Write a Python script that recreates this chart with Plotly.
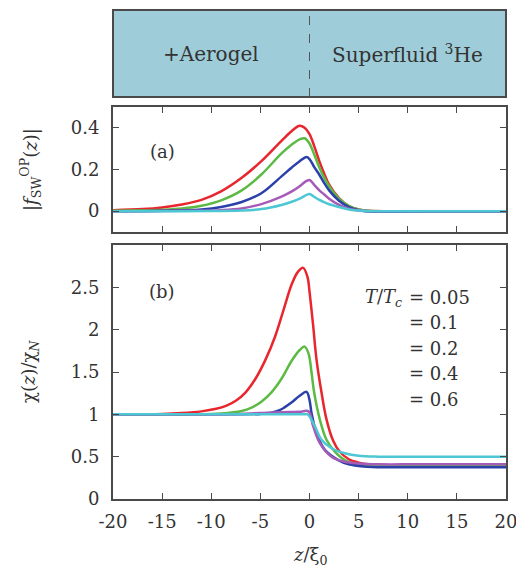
import plotly.graph_objects as go

# ---------------- data ----------------
temps = ["0.05", "0.1", "0.2", "0.4", "0.6"]
colors = ["#e8262e", "#5cba45", "#2b40a8", "#a65bb8", "#4cc7d3"]

# panel (a): |f_SW^OP(z)|
za_red = [-20, -17, -15, -13, -11, -9, -6.9, -4.9, -2.85, -1.8, -1.0, -0.5, 0, 0.5, 1, 1.5, 2, 3, 4, 5, 6, 8, 12, 20]
fa_red = [0.005, 0.01, 0.018, 0.032, 0.054, 0.095, 0.16, 0.24, 0.338, 0.385, 0.41, 0.40, 0.37, 0.31, 0.24, 0.18, 0.127, 0.063, 0.025, 0.008, 0.002, 0, 0, 0]
za_green = [-20, -17, -15, -13, -11, -9, -6.9, -4.9, -2.85, -1.8, -1.0, -0.5, 0, 0.5, 1, 1.5, 2, 3, 4, 5, 6, 8, 12, 20]
fa_green = [0.002, 0.004, 0.007, 0.013, 0.026, 0.052, 0.10, 0.176, 0.277, 0.32, 0.345, 0.35, 0.325, 0.27, 0.21, 0.16, 0.12, 0.06, 0.025, 0.008, 0.002, 0, 0, 0]
za_blue = [-20, -16, -13, -11, -9, -6.9, -4.9, -2.85, -1.8, -1.0, -0.3, 0, 0.5, 1, 1.5, 2, 3, 4, 5, 6, 8, 12, 20]
fa_blue = [0, 0.001, 0.004, 0.008, 0.02, 0.044, 0.086, 0.167, 0.21, 0.24, 0.26, 0.25, 0.21, 0.175, 0.135, 0.10, 0.05, 0.02, 0.005, -0.002, -0.003, -0.002, -0.002]
za_purple = [-20, -15, -12, -9, -6.9, -4.9, -2.85, -1.8, -1.0, -0.3, 0, 0.5, 1, 1.5, 2, 3, 4, 5, 6, 9, 14, 20]
fa_purple = [0, 0.001, 0.002, 0.005, 0.013, 0.034, 0.07, 0.095, 0.12, 0.145, 0.15, 0.125, 0.10, 0.08, 0.06, 0.03, 0.012, 0.004, 0, 0, 0, 0]
za_cyan = [-20, -15, -10, -6.9, -4.9, -2.85, -1.8, -1.0, -0.3, 0, 0.5, 1, 1.5, 2, 3, 4, 5, 6, 9, 14, 20]
fa_cyan = [0, 0, 0.001, 0.003, 0.01, 0.03, 0.045, 0.06, 0.078, 0.083, 0.068, 0.054, 0.043, 0.033, 0.02, 0.008, 0.003, 0, 0, 0, 0]

# panel (b): chi(z)/chi_N
zb_red = [-20, -17, -15, -13, -11, -9.5, -8.5, -7.5, -6.5, -5.5, -4.5, -3.5, -2.6, -1.83, -1.2, -0.65, -0.2, 0.0, 0.37, 0.71, 1.22, 1.73, 2.4, 3.0, 4.0, 5.0, 6.0, 8.0, 12, 20]
cb_red = [1.0, 1.002, 1.005, 1.015, 1.035, 1.065, 1.10, 1.16, 1.26, 1.42, 1.64, 1.92, 2.25, 2.53, 2.68, 2.73, 2.62, 2.45, 2.05, 1.65, 1.26, 0.94, 0.69, 0.57, 0.47, 0.43, 0.41, 0.40, 0.40, 0.40]
zb_green = [-20, -16, -12, -9, -6.9, -5.9, -4.9, -3.87, -2.85, -1.83, -1.0, -0.5, -0.1, 0.2, 0.47, 1.05, 1.73, 2.58, 3.6, 5.0, 6.5, 9, 14, 20]
cb_green = [1.0, 1.0, 1.0, 1.01, 1.04, 1.08, 1.15, 1.26, 1.42, 1.63, 1.76, 1.80, 1.72, 1.5, 1.26, 0.94, 0.70, 0.56, 0.46, 0.41, 0.395, 0.39, 0.39, 0.39]
zb_blue = [-20, -15, -10, -7, -5, -3.87, -2.85, -1.83, -1.0, -0.3, 0.0, 0.2, 0.71, 1.56, 2.92, 4.0, 5.5, 8, 12, 20]
cb_blue = [1.0, 1.0, 1.0, 1.0, 1.005, 1.02, 1.06, 1.14, 1.22, 1.265, 1.17, 1.02, 0.78, 0.58, 0.46, 0.41, 0.385, 0.375, 0.375, 0.375]
zb_purple = [-20, -15, -11, -8, -5, -3, -1, -0.1, 0.37, 1.05, 2.24, 3.6, 5, 7, 11, 20]
cb_purple = [1.0, 1.0, 1.0, 1.0, 1.015, 1.025, 1.03, 1.035, 0.86, 0.66, 0.50, 0.44, 0.42, 0.41, 0.41, 0.41]
zb_cyan = [-20, -15, -10, -6, -3, -1.5, -0.6, -0.2, 0.54, 1.22, 2.24, 3.6, 5, 7, 10, 15, 20]
cb_cyan = [1.0, 1.0, 1.0, 1.0, 1.0, 1.0, 1.0, 1.0, 0.86, 0.70, 0.60, 0.54, 0.51, 0.50, 0.50, 0.50, 0.50]

x_ticks = [-20, -15, -10, -5, 0, 5, 10, 15, 20]
ya_ticks = [0, 0.2, 0.4]
ya_labels = ["0", "0.2", "0.4"]
yb_ticks = [0, 0.5, 1, 1.5, 2, 2.5]
yb_labels = ["0", "0.5", "1", "1.5", "2", "2.5"]

series_a = [(za_red, fa_red), (za_green, fa_green), (za_blue, fa_blue), (za_purple, fa_purple), (za_cyan, fa_cyan)]
series_b = [(zb_red, cb_red), (zb_green, cb_green), (zb_blue, cb_blue), (zb_purple, cb_purple), (zb_cyan, cb_cyan)]

# ---------------- figure ----------------
FONT = "DejaVu Serif"
TXT = "#333333"
AX = "#4a4a4a"

fig = go.Figure()
for (z, v), c in zip(series_a, colors):
    fig.add_trace(go.Scatter(x=z, y=v, mode="lines", xaxis="x2", yaxis="y2",
                             line=dict(color=c, width=2.5, shape="spline", smoothing=1.0),
                             showlegend=False, hoverinfo="skip"))
for (z, v), c in zip(series_b, colors):
    fig.add_trace(go.Scatter(x=z, y=v, mode="lines", xaxis="x", yaxis="y",
                             line=dict(color=c, width=2.5, shape="spline", smoothing=1.0),
                             showlegend=False, hoverinfo="skip"))

axis_common = dict(showline=True, linecolor=AX, linewidth=2, mirror="allticks",
                   ticks="inside", ticklen=6, tickwidth=1.2, tickcolor=AX,
                   showgrid=False, zeroline=False,
                   tickfont=dict(family=FONT, size=18, color=TXT))

# the page body adds an 8 px offset, so the figure is 8 px smaller
fig.update_layout(
    width=516, height=559,
    margin=dict(l=105, r=18, t=2, b=68),
    paper_bgcolor="white", plot_bgcolor="white",
    xaxis=dict(domain=[0, 1], anchor="y", range=[-20, 20], tickvals=x_ticks,
               ticktext=[str(t) for t in x_ticks], ticklabelstandoff=5, **axis_common),
    yaxis=dict(domain=[0, 0.5194], anchor="x", range=[0, 3.0], tickvals=yb_ticks,
               ticktext=yb_labels, ticklabelstandoff=8, **axis_common),
    xaxis2=dict(domain=[0, 1], anchor="y2", range=[-20, 20], tickvals=x_ticks,
                showticklabels=False, **axis_common),
    yaxis2=dict(domain=[0.546, 0.8016], anchor="x2", range=[-0.1, 0.5], tickvals=ya_ticks,
                ticktext=ya_labels, ticklabelstandoff=8, **axis_common),
)

# top box (schematic)
fig.add_shape(type="rect", xref="paper", yref="paper", x0=0, x1=1, y0=0.822, y1=1.0,
              fillcolor="#9ecdd9", line=dict(color=AX, width=2), layer="below")
fig.add_shape(type="line", xref="x2", yref="paper", x0=0, x1=0, y0=0.822, y1=1.0,
              line=dict(color="#555555", width=1, dash="dash"))

def A(**kw):
    base = dict(showarrow=False, xanchor="center", yanchor="middle",
                font=dict(family=FONT, size=18, color=TXT))
    base.update(kw)
    return base

ann = []
ann.append(A(text="+Aerogel", xref="x2", yref="paper", x=-10, y=0.911,
             font=dict(family=FONT, size=20, color=TXT)))
ann.append(A(text="Superfluid <sup>3</sup>He", xref="x2", yref="paper", x=10, y=0.911,
             font=dict(family=FONT, size=20, color=TXT)))
ann.append(A(text="(a)", xref="x2", yref="y2", x=-15, y=0.288))
ann.append(A(text="(b)", xref="x", yref="y", x=-15, y=2.45))
ann.append(A(text="<i>T</i>/<i>T</i><sub><i>c</i></sub>", xref="x", yref="y", x=9.6, y=2.38,
             xanchor="right"))
legend_y = [2.38, 2.08, 1.78, 1.48, 1.18]
for t, yy in zip(temps, legend_y):
    ann.append(A(text="= " + t, xref="x", yref="y", x=9.9, y=yy, xanchor="left"))
# axis titles
ann.append(A(text="<i>z</i>/ξ<sub>0</sub>", xref="paper", yref="paper", x=0.5, y=-0.117))
ann.append(A(text="χ(<i>z</i>)/χ<sub><i>N</i></sub>", xref="paper", yref="paper", x=-0.211, y=0.26,
             textangle=-90))
ann.append(A(text="|<i>f</i><sub>SW</sub><sup>OP</sup>(<i>z</i>)|", xref="paper", yref="paper",
             x=-0.211, y=0.673, textangle=-90))
fig.update_layout(annotations=ann)

fig.write_html("out.html")
